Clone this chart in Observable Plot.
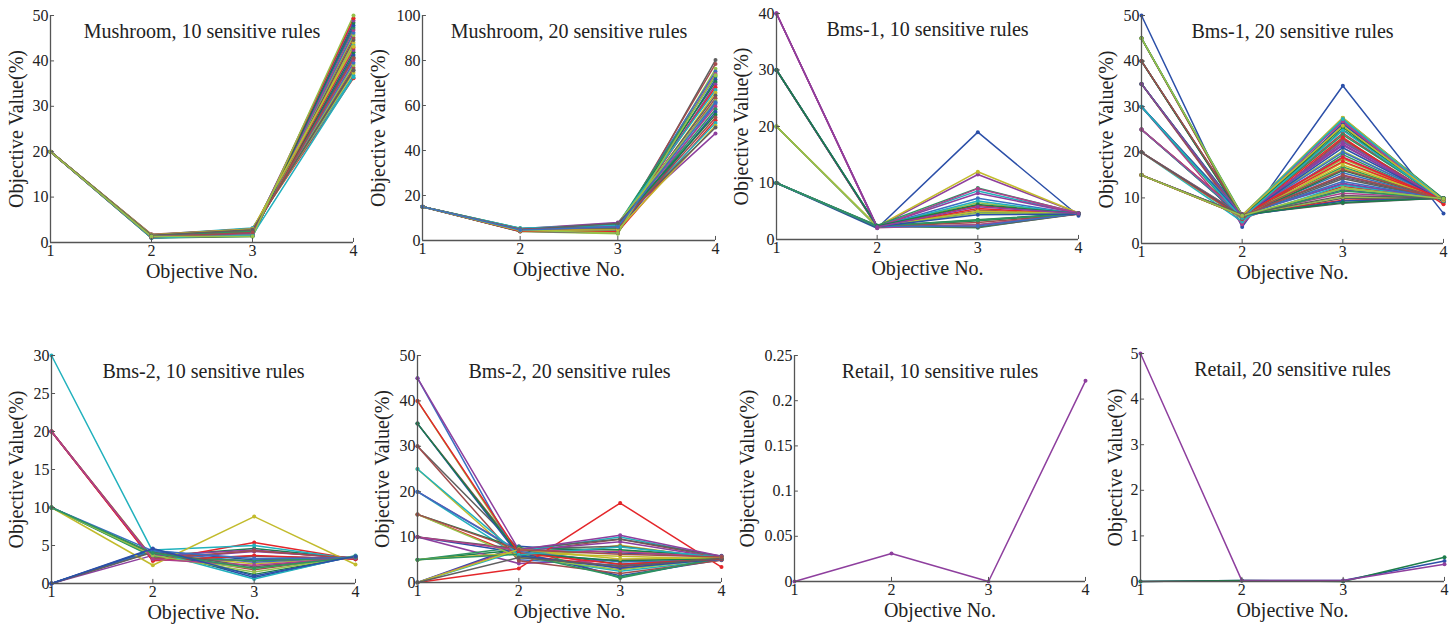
<!DOCTYPE html>
<html>
<head>
<meta charset="utf-8">
<script src="https://cdn.jsdelivr.net/npm/d3@7"></script>
<script src="https://cdn.jsdelivr.net/npm/@observablehq/plot@0.6"></script>
<style>
  html, body { margin: 0; padding: 0; background: #fff; }
  #wrap { position: relative; width: 1456px; height: 626px; overflow: hidden; }
  #wrap svg { position: absolute; }
</style>
</head>
<body>
<div id="wrap"></div>
<script>
// ---------- data ----------
const objectives = [1, 2, 3, 4];

const mushroom10 = [
  [20,1.6,3.1,36.2],[20,1.7,3.2,36.8],[20,1.5,2.9,37.4],[20,1.4,2.8,38.0],[20,1.8,3.0,38.5],
  [20,1.3,2.6,39.1],[20,1.5,2.7,39.6],[20,1.2,2.4,40.2],[20,1.6,2.5,40.8],[20,1.1,2.2,41.3],
  [20,1.4,2.3,41.9],[20,1.7,2.9,42.4],[20,1.0,2.0,42.9],[20,1.3,2.1,43.5],[20,1.5,1.9,44.0],
  [20,1.2,1.8,44.6],[20,1.6,2.7,45.1],[20,1.4,1.7,45.7],[20,1.1,1.6,46.2],[20,1.3,1.5,46.8],
  [20,1.5,2.4,47.3],[20,1.2,1.4,47.8],[20,1.0,1.3,48.4],[20,1.4,2.0,48.9],[20,1.1,1.5,49.4],
  [20,1.0,1.6,36.4],[20,1.7,3.0,43.1],[20,1.6,2.8,37.9],[20,1.2,2.2,40.6],[20,1.3,1.3,50.0]
];

const mushroom20 = [
  [15,4.2,3.2,80.2],[15,4.6,5.1,78.5],[15,4.0,3.0,76.3],[15,4.8,6.2,75.1],[15,4.4,4.0,74.0],
  [15,5.0,7.1,72.8],[15,4.1,3.5,71.6],[15,5.2,6.8,70.4],[15,4.3,4.6,69.3],[15,4.9,5.5,68.1],
  [15,4.5,7.5,66.9],[15,5.3,4.2,65.7],[15,4.0,6.0,64.5],[15,4.7,5.0,63.2],[15,5.1,7.8,62.0],
  [15,4.2,3.8,60.8],[15,4.6,6.5,59.6],[15,5.4,5.3,58.3],[15,4.3,4.4,57.1],[15,4.8,7.2,55.9],
  [15,5.2,8.0,47.6],[15,4.1,3.9,53.4],[15,5.5,6.9,52.2],[15,4.4,4.8,51.0],[15,4.9,7.6,50.2],
  [15,5.0,5.8,54.7],[15,4.5,3.3,73.5],[15,4.7,6.1,61.5]
];

const bms1_10 = [
  [10,2.3,2.1,4.6],[10,2.0,19.0,4.2],[10,2.4,3.5,4.6],[40,2.2,11.5,4.7],[10,2.3,6.0,4.6],
  [30,2.4,8.6,4.6],[20,2.3,12.0,4.7],[10,2.2,2.6,4.5],[30,2.2,5.2,4.5],[20,2.4,6.5,4.6],
  [10,2.3,7.3,4.5],[40,2.1,2.6,4.5],[10,2.5,9.1,4.7],[20,2.2,4.8,4.6],[10,2.2,3.3,4.6],
  [40,2.3,8.2,4.6],[30,2.2,5.5,4.5],[30,2.3,6.8,4.5],[20,2.3,5.0,4.6],[10,2.4,2.2,4.5],
  [30,2.3,3.0,4.5],[20,2.2,4.7,4.6],[10,2.3,2.4,4.6],[40,2.1,9.0,4.7],[10,2.4,3.4,4.6],
  [30,2.3,4.4,4.5],[30,2.4,6.2,4.6],[40,2.2,5.8,4.6]
];

const bms1_20 = [
  [50,3.6,34.6,6.6],[45,5.8,27.5,9.8],[45,6.0,21.5,9.6],[45,5.5,12.5,9.9],[40,6.2,27.0,9.5],
  [40,5.9,16.5,9.7],[40,6.1,9.9,9.8],[35,5.0,23.0,9.4],[35,5.6,18.5,9.6],[35,6.3,13.0,9.9],
  [30,4.2,26.5,8.9],[30,5.2,19.5,9.5],[30,6.0,11.8,9.7],[25,5.7,25.0,9.6],[25,6.2,14.8,9.8],
  [25,6.4,9.5,9.9],[20,4.8,22.5,9.3],[20,5.4,17.8,9.5],[20,6.3,8.8,10.0],[15,6.0,24.2,9.6],
  [15,6.1,20.3,9.4],[15,6.2,15.5,9.7],[15,6.3,11.0,9.9],[45,5.9,23.8,9.7],[40,6.0,26.2,9.2],
  [35,5.8,16.0,9.8],[30,6.1,21.8,9.3],[25,6.0,18.0,9.6],[20,5.5,12.8,9.9],[15,6.2,27.6,9.5],
  [40,6.4,14.5,9.8],[35,5.3,22.8,9.4],[30,6.2,10.2,9.9],[25,5.9,20.0,9.7],[20,6.1,26.8,9.3],
  [45,6.3,16.8,9.6],[35,6.1,9.3,10.0],[40,5.8,25.5,9.0],[15,6.4,13.2,9.8],[20,5.7,23.3,8.6],
  [25,6.1,27.3,9.5],[15,6.0,17.2,9.6],[20,6.0,14.2,9.7],[40,6.3,16.2,9.8],[45,6.1,12.0,9.9],
  [30,6.2,13.6,9.8],[25,6.2,19.0,9.6],[35,6.0,11.5,9.9],[30,5.9,21.0,9.5],[15,6.3,9.0,10.0],
  [35,5.9,22.2,9.5],[15,6.1,18.8,9.6],[30,5.6,24.8,9.4],[15,6.2,25.8,9.5],[15,6.3,10.5,9.9],
  [15,6.0,15.0,9.7],[15,6.1,12.2,9.8]
];

const bms2_10 = [
  [0,4.3,3.1,3.4],[10,3.6,4.6,3.3],[20,3.2,4.2,3.4],[20,3.0,5.4,3.2],[0,4.4,5.0,3.2],
  [10,3.8,2.6,3.5],[20,3.1,3.6,3.3],[10,3.9,1.8,3.6],[20,3.4,2.0,3.5],[0,4.2,2.8,3.5],
  [20,3.3,3.0,3.4],[10,3.5,3.0,3.4],[0,4.5,0.8,3.6],[10,4.0,1.2,3.6],[0,3.7,4.4,3.2],
  [20,3.0,3.7,3.2],[30,4.2,0.6,3.7],[10,2.4,8.8,2.5],[0,4.1,2.2,3.5],[20,3.3,4.3,3.3],
  [10,3.7,1.5,3.6],[10,4.3,3.3,3.4],[20,3.2,2.4,3.4],[10,4.0,2.0,3.5],[0,4.6,1.0,3.6]
];

const bms2_20 = [
  [0,8.0,6.5,5.9],[5,7.2,4.0,5.3],[10,4.2,5.0,5.2],[15,6.0,3.5,5.1],[20,5.8,2.5,5.0],
  [25,5.2,8.2,5.2],[30,7.4,8.0,5.3],[35,6.8,9.5,5.5],[40,6.0,7.0,5.7],[45,5.0,3.8,5.4],
  [0,7.6,3.0,5.4],[5,7.8,1.0,5.5],[10,6.6,1.5,5.0],[15,7.5,7.2,5.7],[20,7.0,9.0,5.4],
  [0,3.1,17.5,3.4],[0,7.0,10.0,5.6],[5,6.5,5.8,5.2],[10,7.4,9.6,5.8],[30,4.8,2.0,4.9],
  [15,5.6,2.8,5.3],[20,6.8,4.5,5.0],[10,7.1,6.8,5.6],[5,6.2,1.2,5.4],[35,5.9,3.2,5.2],
  [35,6.4,4.8,5.3],[45,7.2,10.4,5.8],[40,6.5,4.0,5.2],[25,6.1,7.8,5.5],[0,7.3,5.2,5.5],
  [0,5.5,3.6,5.3],[15,7.2,6.2,5.6]
];

const retail10 = [
  [0,0.031,0,0.222]
];

const retail20 = [
  [0,0.02,0.02,0.45],[0,0.02,0.0,0.53],[5,0.02,0.02,0.38]
];

// ---------- styling ----------
const palette = ["#2b4fa8","#1c7d4a","#8e3f9e","#e4262a","#21b1bd","#c2bb2c",
                 "#5f5f5f","#a14c4c","#95c24a","#3a6fc0","#b03f8c","#2e9460"];
const font = "'Liberation Serif', 'Times New Roman', serif";

const panels = [
  {title:"Mushroom, 10 sensitive rules", data:mushroom10, ticks:[0,10,20,30,40,50], left:0,    top:0,   mL:50, mR:11, mT:15, mB:71, ldx:-34, off:3},
  {title:"Mushroom, 20 sensitive rules", data:mushroom20, ticks:[0,20,40,60,80,100], left:364, top:0,   mL:58, mR:13, mT:15, mB:73, ldx:-44, off:6},
  {title:"Bms-1, 10 sensitive rules",    data:bms1_10,    ticks:[0,10,20,30,40],      left:728, top:0,   mL:48, mR:14, mT:13, mB:74, ldx:-35, off:11},
  {title:"Bms-1, 20 sensitive rules",    data:bms1_20,    ticks:[0,10,20,30,40,50],   left:1092,top:0,   mL:49, mR:13, mT:15, mB:70, ldx:-35, off:0},
  {title:"Bms-2, 10 sensitive rules",    data:bms2_10,    ticks:[0,5,10,15,20,25,30], left:0,    top:313, mL:51, mR:9,  mT:42, mB:43, ldx:-35, off:0},
  {title:"Bms-2, 20 sensitive rules",    data:bms2_20,    ticks:[0,10,20,30,40,50],   left:364, top:313, mL:53, mR:7,  mT:42, mB:44, ldx:-35, off:0},
  {title:"Retail, 10 sensitive rules",   data:retail10,   ticks:[0,0.05,0.1,0.15,0.2,0.25], left:728, top:313, mL:66, mR:7, mT:42, mB:45, ldx:-47, off:2},
  {title:"Retail, 20 sensitive rules",   data:retail20,   ticks:[0,1,2,3,4,5],        left:1092,top:313, mL:48, mR:12, mT:40, mB:45, ldx:-25, off:0}
];

const fmt = d => String(+d.toFixed(2));

function drawPanel(p) {
  const ymax = p.ticks[p.ticks.length - 1];
  const table = p.data.flatMap((row, i) =>
    row.map((v, j) => ({id: i, obj: objectives[j], value: v, color: palette[(i + p.off) % palette.length]})));
  const axisColor = "#555";
  const svg = Plot.plot({
    width: 364, height: 313,
    marginLeft: p.mL, marginRight: p.mR, marginTop: p.mT, marginBottom: p.mB,
    style: {fontFamily: font, fontSize: "16px", color: "#222", background: "transparent", overflow: "visible"},
    x: {domain: [1, 4], label: null},
    y: {domain: [0, ymax], label: null},
    color: {type: "identity"},
    marks: [
      Plot.line(table, {x: "obj", y: "value", z: "id", stroke: "color", strokeWidth: 1.5}),
      Plot.dot(table, {x: "obj", y: "value", fill: "color", r: 2}),
      Plot.ruleY([0], {stroke: axisColor, strokeWidth: 1.3}),
      Plot.ruleX([1], {stroke: axisColor, strokeWidth: 1.3}),
      Plot.ruleX(objectives, {x: d => d, y1: 0, y2: ymax * 0.018, stroke: axisColor}),
      Plot.ruleY(p.ticks, {y: d => d, x1: 1, x2: 1.04, stroke: axisColor}),
      Plot.axisX(objectives, {tickSize: 0, tickPadding: 2, tickFormat: d => String(d), fontSize: 16, fill: "#222", label: null}),
      Plot.axisY(p.ticks, {tickSize: 0, tickPadding: 2, tickFormat: fmt, fontSize: 16, fill: "#222", label: null}),
      Plot.text([p.title], {text: d => d, frameAnchor: "top", lineAnchor: "middle", dy: 16, fontSize: 20, fill: "#222", fontFamily: font}),
      Plot.text(["Objective No."], {text: d => d, frameAnchor: "bottom", lineAnchor: "middle", dy: 29, fontSize: 20, fill: "#222", fontFamily: font}),
      Plot.text(["Objective Value(%)"], {text: d => d, frameAnchor: "left", textAnchor: "middle", lineAnchor: "middle", dx: p.ldx, rotate: -90, fontSize: 20, fill: "#222", fontFamily: font})
    ]
  });
  svg.style.left = p.left + "px";
  svg.style.top = p.top + "px";
  return svg;
}

const wrap = document.getElementById("wrap");
panels.forEach(p => wrap.appendChild(drawPanel(p)));
</script>
</body>
</html>
